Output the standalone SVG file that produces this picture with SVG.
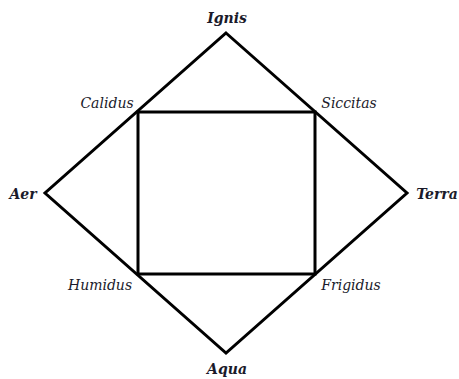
<svg xmlns="http://www.w3.org/2000/svg" width="459" height="379" viewBox="0 0 459 379">
<style>
.l{fill:none;stroke:#000;stroke-width:3;stroke-linejoin:miter}
.t{font-family:'DejaVu Serif',serif;font-style:italic;font-size:14px;fill:#1a1a2a}
.b{font-weight:bold}
</style>
<rect width="459" height="379" fill="#fff"/>
<g id="connectors">
<polygon class="l" points="226,33 407,193 226,353 45,193"/>
<rect class="l" x="138" y="112" width="177" height="162"/>
</g>
<g id="ignis"><text class="t b" x="227" y="23" text-anchor="middle">Ignis</text></g>
<g id="aer"><text class="t b" x="23" y="199" text-anchor="middle">Aer</text></g>
<g id="terra"><text class="t b" x="437" y="199" text-anchor="middle">Terra</text></g>
<g id="aqua"><text class="t b" x="227" y="374" text-anchor="middle">Aqua</text></g>
<g id="calidus"><text class="t" x="107" y="108" text-anchor="middle">Calidus</text></g>
<g id="siccitas"><text class="t" x="349" y="108" text-anchor="middle">Siccitas</text></g>
<g id="humidus"><text class="t" x="100" y="290" text-anchor="middle">Humidus</text></g>
<g id="frigidus"><text class="t" x="351" y="290" text-anchor="middle">Frigidus</text></g>
</svg>
